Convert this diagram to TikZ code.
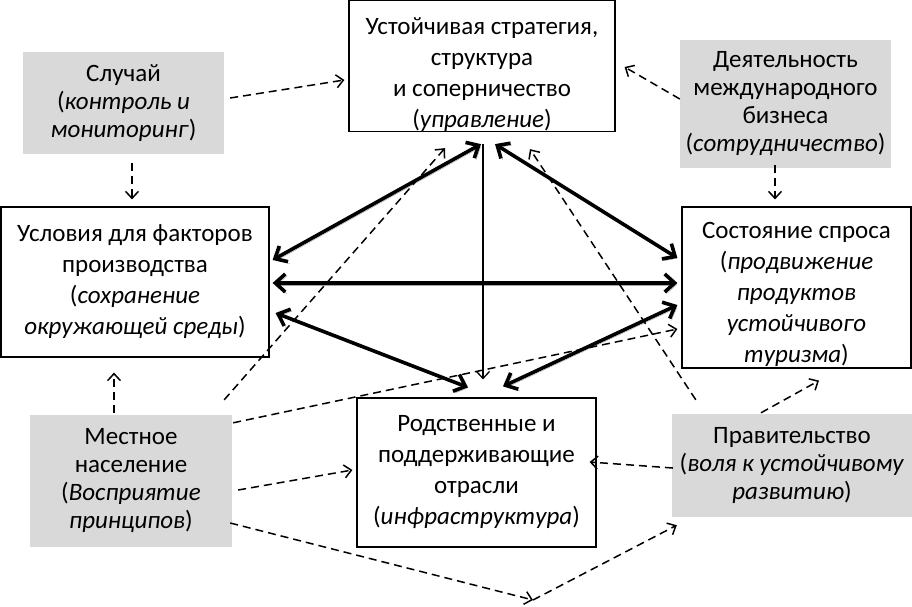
\documentclass[tikz,border=0pt]{standalone}
\usepackage{fontspec}
\setmainfont{Carlito}
\usetikzlibrary{arrows.meta,calc}
\definecolor{boxgray}{RGB}{217,217,217}
\tikzset{
  whitebox/.style={draw, line width=1.2pt, fill=white, align=center, inner sep=0pt,
    font=\fontsize{25}{31}\selectfont},
  graybox/.style={fill=boxgray, align=center, inner sep=0pt,
    font=\fontsize{25}{28}\selectfont},
  tie/.style={line width=3.6pt,
    {Straight Barb[length=10pt,width=18pt]}-{Straight Barb[length=10pt,width=18pt]},
    preaction={draw=black!35, transform canvas={xshift=1.8pt,yshift=-1.8pt}}},
  push/.style={line width=1.5pt, dash pattern=on 8pt off 5pt,
    -{Straight Barb[length=7pt,width=13pt]}},
}

\begin{document}
\begin{tikzpicture}[x=1pt,y=-1pt]
\useasboundingbox (0,0) rectangle (912,607);

\node(strat)	[whitebox, minimum width=266pt, minimum height=130pt] at (482,66)
{\rule{0pt}{34pt}Устойчивая стратегия,\\структура\\и соперничество\\(\textit{управление})};
\node(chance)	[graybox, minimum width=201pt, minimum height=102pt] at (123.5,103)
{Случай\\(\textit{контроль и}\\\textit{мониторинг})};
\node(biz)	[graybox, minimum width=211pt, minimum height=128pt] at (785.5,104)
{Деятельность\\международного\\бизнеса\\(\textit{сотрудничество})};
\node(factor)	[whitebox, minimum width=268pt, minimum height=150pt] at (135,282)
{Условия для факторов\\производства\\(\textit{сохранение}\\\textit{окружающей среды})};
\node(demand)	[whitebox, minimum width=229pt, minimum height=161pt] at (796.5,287.5)
{\rule{0pt}{31pt}Состояние спроса\\(\textit{продвижение}\\\textit{продуктов}\\\textit{устойчивого}\\\textit{туризма})};
\node(related)	[whitebox, minimum width=239pt, minimum height=149pt] at (476.5,472.5)
{Родственные и\\поддерживающие\\отрасли\\(\textit{инфраструктура})};
\node(local)	[graybox, minimum width=202pt, minimum height=132pt] at (131,481)
{Местное\\население\\(\textit{Восприятие}\\\textit{принципов})};
\node(gov)	[graybox, minimum width=240pt, minimum height=103pt] at (792,465.5)
{Правительство\\(\textit{воля к устойчивому}\\\textit{развитию})};
\coordinate(bend) at (533,600);

% the diamond
\draw[tie] ($(factor.east)+(3,-22)$) -- ($(strat.south)+(-1,12)$);
\draw[tie] ($(strat.south)+(13,12)$) -- ($(demand.west)+(-4,-29.5)$);
\draw[tie] ($(factor.east)+(3,1)$) -- ($(demand.west)+(-4,-4.5)$);
\draw[tie] ($(factor.east)+(6,31)$) -- ($(related.north)+(-8.5,-10)$);
\draw[tie] ($(related.north)+(26.5,-11)$) -- ($(demand.west)+(-4,17.5)$);
\draw[line width=1.3pt, -{Straight Barb[length=7pt,width=13pt]}]
  ($(strat.south)+(1,12)$) -- ($(related.north)+(6.5,-18)$);

% outside influences
\draw[push] ($(chance.east)+(6,-5)$) -- ($(strat.west)+(-4,14)$);
\draw[push] ($(chance.south)+(8.5,9)$) -- ($(factor.north)+(-3,-7)$);
\draw[push] ($(biz.west)+(0,-5)$) -- ($(strat.east)+(9,1)$);
\draw[push] ($(biz.south)+(-10.5,-3)$) -- ($(demand.north)+(-21.5,-7)$);
\draw[push] ($(local.north)+(-17,-2)$) -- ($(factor.south)+(-21,15)$);
\draw[push] ($(local.north east)+(-8,-15)$) -- ($(strat.south)+(-37,16)$);
\draw[push] ($(local.north east)+(1,8)$) -- ($(demand.west)+(-4,41.5)$);
\draw[push] ($(local.east)+(6,9)$) -- ($(related.west)+(-4,-2.5)$);
\draw[push] ($(local.east)+(-2,42)$) -- (bend);
\draw[push] (bend) -- ($(gov.south west)+(5,8)$);
\draw[push] ($(gov.west)+(1,2.5)$) -- ($(related.east)+(-7,-10.5)$);
\draw[push] ($(gov.north)+(-31,-1)$) -- ($(demand.south)+(22.5,12)$);
\draw[push] ($(gov.north west)+(24,-14)$) -- ($(strat.south)+(48,17)$);
\end{tikzpicture}
\end{document}
